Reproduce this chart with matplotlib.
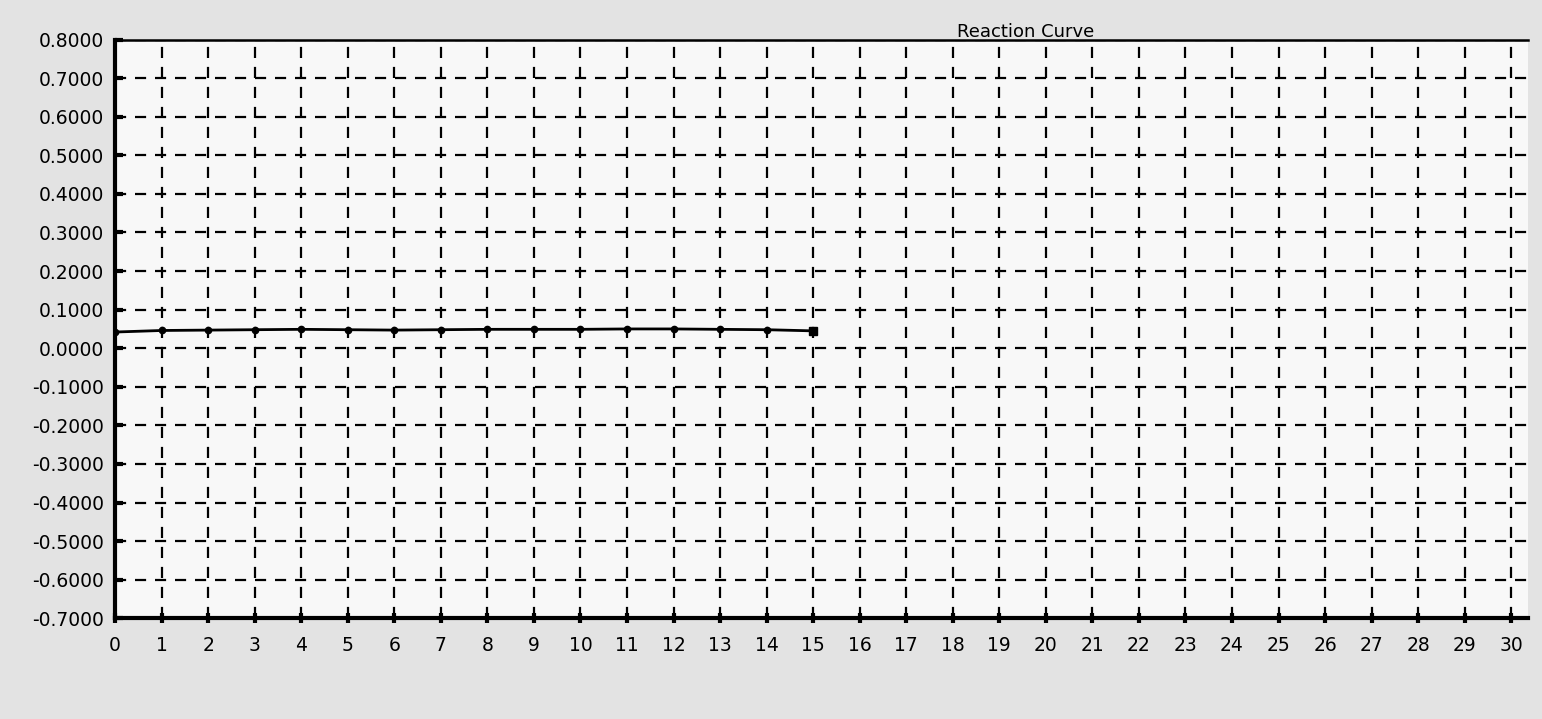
import matplotlib
matplotlib.use("Agg")
import matplotlib.pyplot as plt
import numpy as np

# Data
time_points = list(range(0, 16))
reaction_values = [0.042, 0.046, 0.047, 0.048, 0.049, 0.048, 0.047, 0.048,
                   0.049, 0.049, 0.049, 0.050, 0.050, 0.049, 0.048, 0.045]
x_ticks = list(range(0, 31))
y_ticks = [-0.7, -0.6, -0.5, -0.4, -0.3, -0.2, -0.1, 0.0, 0.1, 0.2, 0.3, 0.4, 0.5, 0.6, 0.7, 0.8]
title_text = "Reaction Curve"

plt.rcParams['font.family'] = ['DejaVu Sans']

fig = plt.figure(figsize=(15.42, 7.19), dpi=100, facecolor='#e3e3e3')
ax = fig.add_axes([0.0746, 0.14, 0.916, 0.805])
ax.set_facecolor('#f8f8f8')

ax.plot(time_points, reaction_values, color='black', linewidth=2,
        marker='o', markersize=4.5, zorder=3)
ax.plot(time_points[-1:], reaction_values[-1:], color='black', marker='s',
        markersize=5.5, linestyle='none', zorder=4)

ax.set_xlim(0, 30.35)
ax.set_ylim(-0.7, 0.8)
ax.set_xticks(x_ticks)
ax.set_yticks(y_ticks)
ax.set_yticklabels([f"{v:.4f}" for v in y_ticks])
ax.set_xticklabels([str(v) for v in x_ticks])

ax.grid(True, color='black', linestyle=(0, (5, 4)), linewidth=1.6)
ax.set_axisbelow(True)

for side in ['left', 'bottom']:
    ax.spines[side].set_linewidth(3)
ax.spines['top'].set_linewidth(1.8)
ax.spines['right'].set_visible(False)

ax.tick_params(axis='y', direction='in', length=6, width=3, labelsize=13.5, pad=8)
ax.tick_params(axis='x', direction='inout', length=7, width=3, labelsize=13.5, pad=9)

fig.text(0.665, 0.955, title_text, fontsize=13, ha='center', va='center')

fig.savefig("out.png", dpi=100, facecolor=fig.get_facecolor())
